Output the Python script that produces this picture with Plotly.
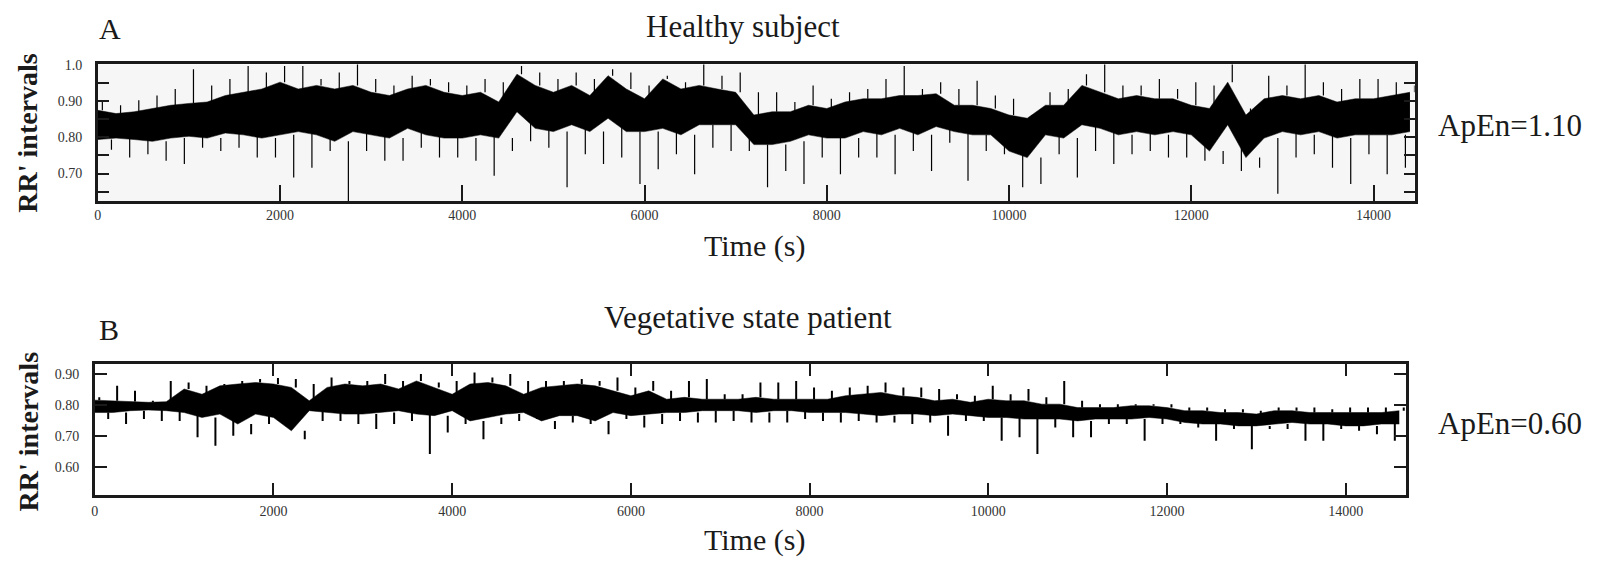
import plotly.graph_objects as go

# ---------------- Data (200-s bins) ----------------
BIN = 200
a_time = [i * BIN for i in range(73)]          # 0 .. 14400 s
a_core_hi = [0.875, 0.866, 0.871, 0.880, 0.889, 0.894, 0.898, 0.916, 0.925, 0.934,
             0.953, 0.934, 0.944, 0.934, 0.944, 0.925, 0.916, 0.934, 0.944, 0.925,
             0.916, 0.925, 0.898, 0.975, 0.944, 0.925, 0.944, 0.916, 0.971, 0.934,
             0.907, 0.962, 0.934, 0.944, 0.934, 0.925, 0.862, 0.871, 0.871, 0.889,
             0.880, 0.898, 0.907, 0.907, 0.916, 0.916, 0.921, 0.889, 0.889, 0.880,
             0.862, 0.853, 0.889, 0.889, 0.944, 0.925, 0.907, 0.916, 0.907, 0.907,
             0.889, 0.880, 0.953, 0.862, 0.907, 0.916, 0.907, 0.916, 0.898, 0.907,
             0.907, 0.916, 0.925]
a_core_lo = [0.794, 0.798, 0.794, 0.789, 0.798, 0.803, 0.798, 0.812, 0.807, 0.798,
             0.807, 0.816, 0.807, 0.789, 0.816, 0.807, 0.798, 0.825, 0.807, 0.798,
             0.798, 0.807, 0.798, 0.871, 0.825, 0.816, 0.835, 0.816, 0.853, 0.816,
             0.816, 0.825, 0.807, 0.835, 0.835, 0.835, 0.780, 0.780, 0.789, 0.807,
             0.798, 0.798, 0.816, 0.807, 0.825, 0.807, 0.830, 0.816, 0.807, 0.807,
             0.762, 0.744, 0.807, 0.798, 0.835, 0.825, 0.807, 0.816, 0.807, 0.816,
             0.807, 0.762, 0.835, 0.744, 0.798, 0.816, 0.807, 0.816, 0.798, 0.807,
             0.807, 0.807, 0.816]
a_ext_hi = [0.898, 0.889, 0.903, 0.916, 0.934, 0.989, 0.944, 0.962, 0.998, 0.980,
            0.998, 0.998, 0.962, 0.980, 1.010, 0.962, 0.944, 0.971, 0.962, 0.953,
            0.944, 0.962, 0.953, 0.998, 0.980, 0.962, 0.980, 0.962, 0.989, 0.980,
            0.944, 0.971, 0.953, 1.010, 0.971, 0.980, 0.925, 0.925, 0.898, 0.944,
            0.907, 0.925, 0.934, 0.962, 0.998, 0.934, 0.953, 0.934, 0.957, 0.916,
            0.907, 0.862, 0.925, 0.934, 0.975, 1.003, 0.944, 0.944, 0.962, 0.934,
            0.953, 0.944, 1.003, 0.880, 0.971, 0.944, 1.003, 0.953, 0.934, 0.962,
            0.962, 0.953, 0.944]
a_ext_lo = [0.766, 0.744, 0.753, 0.735, 0.726, 0.771, 0.762, 0.771, 0.744, 0.744,
            0.689, 0.716, 0.762, 0.600, 0.762, 0.735, 0.735, 0.771, 0.744, 0.744,
            0.735, 0.694, 0.762, 0.789, 0.771, 0.662, 0.753, 0.726, 0.744, 0.671,
            0.712, 0.753, 0.698, 0.771, 0.762, 0.762, 0.662, 0.707, 0.671, 0.744,
            0.698, 0.744, 0.744, 0.698, 0.762, 0.707, 0.785, 0.680, 0.762, 0.753,
            0.662, 0.671, 0.753, 0.689, 0.762, 0.726, 0.753, 0.762, 0.744, 0.744,
            0.735, 0.726, 0.707, 0.716, 0.644, 0.744, 0.753, 0.716, 0.671, 0.753,
            0.698, 0.716, 0.762]

b_time = [i * BIN for i in range(74)]          # 0 .. 14600 s
b_core_hi = [0.816, 0.814, 0.812, 0.809, 0.811, 0.852, 0.835, 0.862, 0.868, 0.873,
             0.868, 0.857, 0.814, 0.857, 0.868, 0.862, 0.868, 0.852, 0.878, 0.857,
             0.835, 0.868, 0.873, 0.862, 0.835, 0.857, 0.862, 0.868, 0.862, 0.846,
             0.830, 0.846, 0.819, 0.825, 0.819, 0.819, 0.819, 0.825, 0.819, 0.819,
             0.819, 0.819, 0.830, 0.835, 0.841, 0.830, 0.825, 0.814, 0.819, 0.809,
             0.819, 0.814, 0.814, 0.803, 0.803, 0.792, 0.792, 0.792, 0.798, 0.798,
             0.792, 0.782, 0.782, 0.776, 0.776, 0.771, 0.782, 0.782, 0.776, 0.776,
             0.776, 0.776, 0.776, 0.782]
b_core_lo = [0.776, 0.776, 0.782, 0.784, 0.782, 0.776, 0.760, 0.771, 0.739, 0.771,
             0.760, 0.717, 0.782, 0.776, 0.771, 0.771, 0.776, 0.782, 0.771, 0.766,
             0.782, 0.749, 0.760, 0.771, 0.776, 0.749, 0.766, 0.766, 0.749, 0.776,
             0.766, 0.771, 0.776, 0.776, 0.782, 0.782, 0.782, 0.776, 0.782, 0.782,
             0.776, 0.776, 0.776, 0.771, 0.766, 0.771, 0.771, 0.766, 0.771, 0.766,
             0.760, 0.760, 0.755, 0.755, 0.755, 0.749, 0.755, 0.755, 0.755, 0.760,
             0.755, 0.744, 0.739, 0.739, 0.733, 0.733, 0.739, 0.744, 0.739, 0.739,
             0.733, 0.733, 0.739, 0.739]
b_ext_hi = [0.825, 0.862, 0.846, 0.814, 0.878, 0.873, 0.862, 0.868, 0.878, 0.884,
            0.887, 0.884, 0.868, 0.889, 0.878, 0.878, 0.900, 0.878, 0.900, 0.873,
            0.878, 0.905, 0.889, 0.900, 0.878, 0.878, 0.878, 0.884, 0.878, 0.889,
            0.857, 0.878, 0.846, 0.878, 0.884, 0.835, 0.835, 0.873, 0.873, 0.878,
            0.857, 0.846, 0.857, 0.862, 0.873, 0.857, 0.857, 0.852, 0.835, 0.830,
            0.862, 0.835, 0.852, 0.825, 0.878, 0.814, 0.803, 0.803, 0.803, 0.803,
            0.803, 0.792, 0.792, 0.787, 0.787, 0.782, 0.792, 0.792, 0.792, 0.787,
            0.792, 0.792, 0.792, 0.792]
b_ext_lo = [0.755, 0.739, 0.755, 0.749, 0.749, 0.696, 0.669, 0.701, 0.706, 0.739,
            0.749, 0.690, 0.749, 0.749, 0.739, 0.723, 0.739, 0.749, 0.642, 0.712,
            0.739, 0.690, 0.739, 0.749, 0.755, 0.723, 0.744, 0.739, 0.706, 0.755,
            0.728, 0.739, 0.749, 0.744, 0.744, 0.749, 0.744, 0.744, 0.744, 0.755,
            0.749, 0.744, 0.749, 0.744, 0.744, 0.739, 0.744, 0.701, 0.749, 0.749,
            0.685, 0.696, 0.642, 0.728, 0.696, 0.696, 0.739, 0.739, 0.685, 0.739,
            0.739, 0.728, 0.685, 0.723, 0.658, 0.723, 0.723, 0.685, 0.685, 0.723,
            0.717, 0.706, 0.685, 0.706]

x_ticks = [0, 2000, 4000, 6000, 8000, 10000, 12000, 14000]
a_y_ticks = [0.70, 0.80, 0.90, 1.0]
a_y_ticklabels = ["0.70", "0.80", "0.90", "1.0"]
a_y_minor = [0.65, 0.75, 0.85, 0.95]
b_y_ticks = [0.60, 0.70, 0.80, 0.90]
b_y_ticklabels = ["0.60", "0.70", "0.80", "0.90"]

# ---------------- Figure ----------------
OFF = 8                      # default page margin of the html body
W, H = 1619 - OFF, 561 - OFF
SERIF = "Liberation Serif, Times New Roman, serif"


def spikes(t, clo, chi, elo, ehi):
    """Per bin: an upward excursion (band top -> max) and a downward one (band bottom -> min)."""
    xs, ys = [], []
    q = BIN / 4
    for ti, cl, ch, el, eh in zip(t, clo, chi, elo, ehi):
        xs += [ti + q, ti + q, None, ti + 3 * q, ti + 3 * q, None]
        ys += [ch, eh, None, cl, el, None]
    return xs, ys


fig = go.Figure()


def add_panel(t, clo, chi, elo, ehi, xa, ya, width):
    fig.add_trace(go.Scatter(x=t, y=clo, mode="lines", line=dict(color="black", width=0.5),
                             xaxis=xa, yaxis=ya, showlegend=False, hoverinfo="skip"))
    fig.add_trace(go.Scatter(x=t, y=chi, mode="lines", line=dict(color="black", width=0.5),
                             fill="tonexty", fillcolor="black",
                             xaxis=xa, yaxis=ya, showlegend=False, hoverinfo="skip"))
    sx, sy = spikes(t, clo, chi, elo, ehi)
    fig.add_trace(go.Scatter(x=sx, y=sy, mode="lines", line=dict(color="black", width=width),
                             connectgaps=False,
                             xaxis=xa, yaxis=ya, showlegend=False, hoverinfo="skip"))


add_panel(a_time, a_core_lo, a_core_hi, a_ext_lo, a_ext_hi, "x", "y", 1.2)
add_panel(b_time, b_core_lo, b_core_hi, b_ext_lo, b_ext_hi, "x2", "y2", 2.0)


def px_x(v):
    return (v - OFF) / W


def px_y(v):
    return 1 - (v - OFF) / H


axis_common = dict(showline=True, linewidth=2.5, linecolor="#1a1a1a", showgrid=False,
                   zeroline=False, ticks="inside", tickwidth=1.5, tickcolor="#1a1a1a",
                   tickmode="array")

fig.update_layout(
    width=W, height=H, autosize=False,
    margin=dict(l=0, r=0, t=0, b=0),
    paper_bgcolor="white", plot_bgcolor="white",
    showlegend=False,
    xaxis=dict(axis_common, domain=[px_x(94), px_x(1414)], anchor="y", range=[0, 14450],
               mirror=True, ticklen=16, tickvals=x_ticks, ticktext=[str(v) for v in x_ticks],
               tickfont=dict(family=SERIF, size=14, color="#333"), ticklabelstandoff=0),
    yaxis=dict(axis_common, domain=[px_y(197), px_y(59)], anchor="x", range=[0.624, 1.002],
               mirror="allticks", ticklen=11, tickvals=a_y_ticks, ticktext=a_y_ticklabels,
               minor=dict(tickvals=a_y_minor, ticks="inside", ticklen=11, tickwidth=1.5,
                          tickcolor="#1a1a1a"),
               tickfont=dict(family=SERIF, size=14, color="#333"), ticklabelstandoff=10),
    xaxis2=dict(axis_common, domain=[px_x(91), px_x(1405)], anchor="y2", range=[0, 14670],
                mirror="allticks", ticklen=12, tickvals=x_ticks, ticktext=[str(v) for v in x_ticks],
                tickfont=dict(family=SERIF, size=14, color="#333"), ticklabelstandoff=2),
    yaxis2=dict(axis_common, domain=[px_y(494), px_y(362)], anchor="x2", range=[0.511, 0.932],
                mirror="allticks", ticklen=12, tickvals=b_y_ticks, ticktext=b_y_ticklabels,
                tickfont=dict(family=SERIF, size=14, color="#333"), ticklabelstandoff=10),
)

# light grey background of panel A
fig.add_shape(type="rect", xref="x domain", yref="y domain", x0=0, x1=1, y0=0, y1=1,
              fillcolor="#f6f6f6", line=dict(width=0), layer="below")


def note(text, x, y, size, bold=False, angle=0):
    fig.add_annotation(text=f"<b>{text}</b>" if bold else text, x=px_x(x), y=px_y(y),
                       xref="paper", yref="paper", showarrow=False, textangle=angle,
                       xanchor="center", yanchor="middle",
                       font=dict(family=SERIF, size=size, color="#1a1a1a"))


note("A", 106, 23, 30)
note("Healthy subject", 741, 21, 31)
note("Time (s)", 752, 243, 30)
note("ApEn=1.10", 1510, 121, 31)
note("RR' intervals", 24, 128, 28, bold=True, angle=-90)

note("B", 105, 327, 30)
note("Vegetative state patient", 746, 315, 31)
note("Time (s)", 752, 540, 30)
note("ApEn=0.60", 1510, 422, 31)
note("RR' intervals", 24, 430, 28, bold=True, angle=-90)

fig.write_html("out.html")
